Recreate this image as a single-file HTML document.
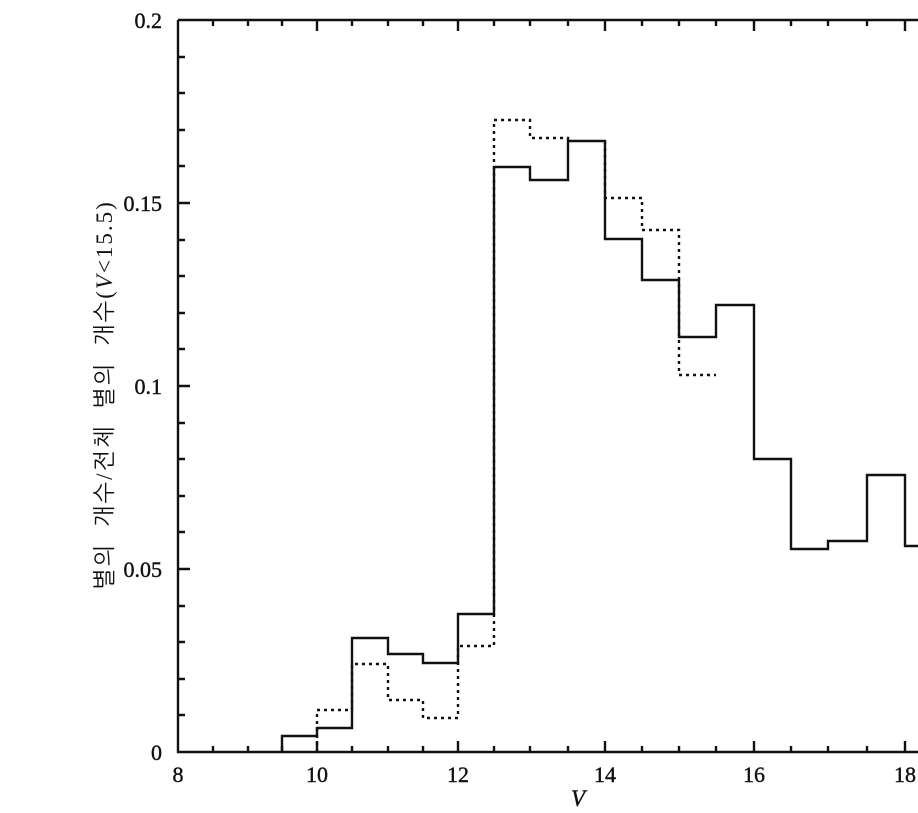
<!DOCTYPE html>
<html><head><meta charset="utf-8"><style>
body{margin:0;background:#fff;}
svg{display:block;}
.t{font-family:"Liberation Serif",serif;font-size:22px;fill:#111;stroke:#111;stroke-width:0.4;}
</style></head><body>
<svg width="918" height="813" viewBox="0 0 918 813" xmlns="http://www.w3.org/2000/svg">
<g stroke="#111" stroke-width="2.4" fill="none">
<path d="M178,20 H918 M178,20 V752 H918"/>
<path d="M178,57h7M178,93h7M178,130h7M178,166h7M178,203h12M178,240h7M178,276h7M178,313h7M178,349h7M178,386h12M178,423h7M178,459h7M178,496h7M178,532h7M178,569h12M178,606h7M178,642h7M178,679h7M178,715h7"/>
<path d="M213,752v-6M248,752v-6M282,752v-6M317,752v-11M352,752v-6M388,752v-6M423,752v-6M458,752v-11M494,752v-6M530,752v-6M568,752v-6M605,752v-11M642,752v-6M679,752v-6M716,752v-6M754,752v-11M791,752v-6M828,752v-6M867,752v-6M905,752v-11"/>
<path d="M213,20v6M248,20v6M282,20v6M317,20v11M352,20v6M388,20v6M423,20v6M458,20v11M494,20v6M530,20v6M568,20v6M605,20v11M642,20v6M679,20v6M716,20v6M754,20v11M791,20v6M828,20v6M867,20v6M905,20v11"/>
<path d="M282,752 V736 H317 V728 H352 V638 H388 V654 H423 V663 H458 V614 H494 V167 H530 V180 H568 V141 H605 V239 H642 V280 H679 V337 H716 V305 H754 V459 H791 V549 H828 V541 H867 V475 H905 V546 H918"/>
</g>
<path d="M317,752 V710 H352 V664 H388 V700 H423 V718 H458 V646 H494 V120 H530 V138 H568 V141 M605,141 V198 H642 V230 H679 V375 H716" stroke="#111" stroke-width="2.4" fill="none" stroke-dasharray="3,4"/>
<g class="t" text-anchor="end">
<text x="162" y="28">0.2</text>
<text x="162" y="211">0.15</text>
<text x="162" y="394">0.1</text>
<text x="162" y="577">0.05</text>
<text x="162" y="760">0</text>
</g>
<g class="t" text-anchor="middle">
<text x="178" y="782">8</text>
<text x="317" y="782">10</text>
<text x="458" y="782">12</text>
<text x="605" y="782">14</text>
<text x="754" y="782">16</text>
<text x="905" y="782">18</text>
<text x="578" y="806" font-style="italic" font-size="23">V</text>
</g>
<text transform="translate(112,395) rotate(-90)" text-anchor="middle" style="font-family:'Liberation Serif','NanumGothic','Noto Sans CJK KR',sans-serif;font-size:23px;fill:#111;letter-spacing:2px;" xml:space="preserve">별의  개수/전체  별의  개수(<tspan font-style="italic">V</tspan>&lt;15.5)</text>
</svg>
</body></html>
